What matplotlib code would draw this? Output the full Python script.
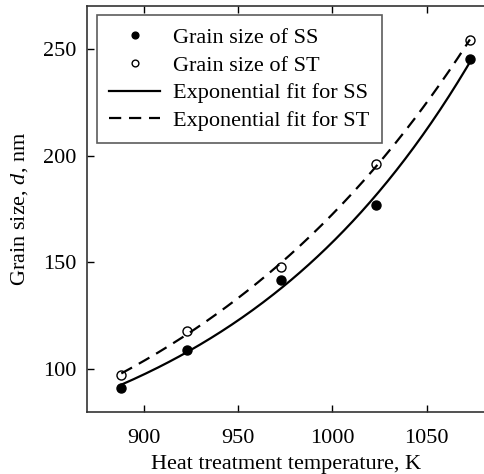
import numpy as np
import matplotlib
matplotlib.use('Agg')
import matplotlib.pyplot as plt

plt.rcParams['font.family'] = ['Liberation Serif', 'DejaVu Serif']
plt.rcParams['mathtext.fontset'] = 'custom'
plt.rcParams['mathtext.rm'] = 'Liberation Serif'
plt.rcParams['mathtext.it'] = 'Liberation Serif:italic'

# heat treatment temperature, K
temp = [888, 923, 973, 1023, 1073]
# grain size, nm
size_ss = [91, 109, 142, 177, 245]
size_st = [97.5, 118, 148, 196, 254]


def exp_fit(x, y):
    # y = y0 + a * exp(b * (x - x0)); scan b, solve y0 and a by least squares
    x = np.asarray(x, float)
    y = np.asarray(y, float)
    best = None
    for b in np.linspace(0.001, 0.03, 600):
        A = np.column_stack([np.ones_like(x), np.exp(b * (x - x[0]))])
        coef, *_ = np.linalg.lstsq(A, y, rcond=None)
        err = np.sum((A @ coef - y) ** 2)
        if best is None or err < best[0]:
            best = (err, b, coef)
    _, b, (y0, a) = best
    xs = np.linspace(x.min(), x.max(), 200)
    return xs, y0 + a * np.exp(b * (xs - x[0]))


fig = plt.figure(figsize=(4.85, 4.74), dpi=100)
ax = fig.add_axes([87.4 / 485, 1 - 412 / 474, 1 - 87.4 / 485, (412 - 6) / 474])

ax.plot(temp, size_ss, 'o', color='black', markersize=6.5, label='Grain size of SS')
ax.plot(temp, size_st, 'o', markerfacecolor='white', markeredgecolor='black',
        markeredgewidth=1.0, markersize=6.5, label='Grain size of ST')

xs, ys = exp_fit(temp, size_ss)
ax.plot(xs, ys, '-', color='black', lw=1.6, label='Exponential fit for SS')
xs, ys = exp_fit(temp, size_st)
ax.plot(xs, ys, '--', color='black', lw=1.6, dashes=(5.5, 3.5), label='Exponential fit for ST')

ax.set_xlim(870, 1081)
ax.set_ylim(80, 270)
ax.set_xticks([900, 950, 1000, 1050])
ax.set_yticks([100, 150, 200, 250])

for s in ['left', 'bottom', 'top']:
    ax.spines[s].set_linewidth(1.2)
    ax.spines[s].set_color('#333333')
ax.spines['right'].set_visible(False)

ax.tick_params(direction='in', length=5, width=1.0, labelsize=16, top=True, right=False)
ax.tick_params(axis='x', pad=12.5)
ax.tick_params(axis='y', pad=8)

ax.set_xlabel('Heat treatment temperature, K', fontsize=16, labelpad=5)
ax.set_ylabel('Grain size, $\\mathit{d}$, nm', fontsize=16, labelpad=9)

leg = ax.legend(loc='upper left', fontsize=16, frameon=True, fancybox=False,
                handlelength=2.3, handletextpad=0.6, labelspacing=0.32,
                borderaxespad=0.42, borderpad=0.55, markerscale=0.75)
leg.get_frame().set_edgecolor('#333333')
leg.get_frame().set_linewidth(1.2)

fig.savefig('out.png', dpi=100)
